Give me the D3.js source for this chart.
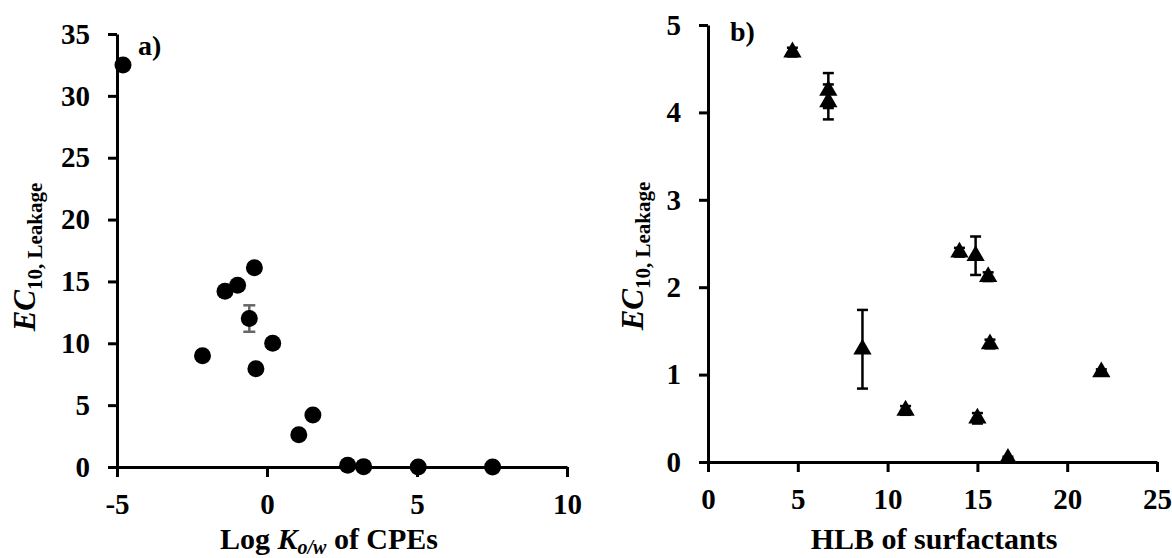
<!DOCTYPE html>
<html>
<head>
<meta charset="utf-8">
<script src="https://cdn.jsdelivr.net/npm/d3@7"></script>
<style>
  body { margin: 0; background: #fff; }
  svg text { font-family: "Liberation Serif", "Times New Roman", serif; font-weight: bold; fill: #000; }
</style>
</head>
<body>
<div id="chart"></div>
<script>
// panel a: EC10 vs log Kow of CPEs
var logKow = [-4.8, -2.15, -1.4, -0.98, -0.42, -0.59, 0.19, -0.37, 1.53, 1.06, 2.69, 3.22, 5.04, 7.52];
var ecA    = [32.5, 9.0, 14.2, 14.7, 16.1, 12.0, 10.0, 7.95, 4.2, 2.6, 0.15, 0.03, 0.0, 0.0];
var errA   = [0, 0, 0, 0, 0, 1.07, 0, 0, 0, 0, 0, 0, 0, 0];
var xTicksA = [-5, 0, 5, 10];
var yTicksA = [0, 5, 10, 15, 20, 25, 30, 35];

// panel b: EC10 vs HLB of surfactants
var hlb  = [4.7, 6.7, 6.7, 14.0, 14.9, 15.6, 8.6, 15.7, 21.9, 11.0, 15.0, 16.7];
var ecB  = [4.69, 4.25, 4.12, 2.40, 2.36, 2.12, 1.29, 1.35, 1.03, 0.59, 0.50, 0.04];
var errB = [0.05, 0.2, 0.2, 0.05, 0.22, 0.05, 0.45, 0.05, 0.03, 0.05, 0.06, 0.02];
var xTicksB = [0, 5, 10, 15, 20, 25];
var yTicksB = [0, 1, 2, 3, 4, 5];

var W = 1172, H = 558;

var svg = d3.select("#chart").append("svg")
  .attr("width", W)
  .attr("height", H);

function drawPanel(cfg) {
  var x = d3.scaleLinear().domain(cfg.xDomain).range(cfg.xRange);
  var y = d3.scaleLinear().domain(cfg.yDomain).range(cfg.yRange);
  var g = svg.append("g");
  var fmt = function(d) { return String(d); };  // plain hyphen, no decimals

  // axes
  var yAxis = d3.axisLeft(y).tickValues(cfg.yTicks).tickFormat(fmt)
    .tickSize(9).tickPadding(18).tickSizeOuter(0);
  var xAxis = d3.axisBottom(x).tickValues(cfg.xTicks).tickFormat(fmt)
    .tickSize(10).tickPadding(16).tickSizeOuter(0);

  var gx = g.append("g")
    .attr("transform", "translate(0," + y(0) + ")")
    .call(xAxis);
  var gy = g.append("g")
    .attr("transform", "translate(" + x(cfg.xDomain[0]) + ",0)")
    .call(yAxis);

  [gx, gy].forEach(function(a) {
    a.select(".domain").attr("stroke", "#000").attr("stroke-width", 3);
    a.selectAll(".tick line").attr("stroke", "#000").attr("stroke-width", 3);
    a.selectAll(".tick text")
      .attr("font-size", 29)
      .attr("font-family", "Liberation Serif, Times New Roman, serif")
      .attr("font-weight", "bold")
      .attr("fill", "#000");
  });

  // error bars
  var eb = g.append("g")
    .selectAll("g")
    .data(cfg.xs.map(function(v, i) { return {x: v, y: cfg.ys[i], e: cfg.errs[i]}; })
      .filter(function(d) { return d.e > 0; }))
    .enter().append("g")
    .attr("stroke", cfg.errColor)
    .attr("stroke-width", cfg.errWidth);

  eb.append("line")
    .attr("x1", function(d) { return x(d.x); })
    .attr("x2", function(d) { return x(d.x); })
    .attr("y1", function(d) { return y(d.y - d.e); })
    .attr("y2", function(d) { return y(d.y + d.e); });
  [-1, 1].forEach(function(s) {
    eb.append("line")
      .attr("x1", function(d) { return x(d.x) - cfg.cap; })
      .attr("x2", function(d) { return x(d.x) + cfg.cap; })
      .attr("y1", function(d) { return y(d.y + s * d.e); })
      .attr("y2", function(d) { return y(d.y + s * d.e); });
  });

  // markers
  g.append("g")
    .selectAll("path")
    .data(cfg.xs.map(function(v, i) { return {x: v, y: cfg.ys[i]}; }))
    .enter().append("path")
    .attr("d", d3.symbol().type(cfg.symbol).size(cfg.symbolSize))
    .attr("transform", function(d) { return "translate(" + x(d.x) + "," + y(d.y) + ")"; })
    .attr("fill", "#000");

  if (cfg.errOnTop) eb.raise();

  // panel label
  g.append("text")
    .attr("x", cfg.label[1])
    .attr("y", cfg.label[2])
    .attr("font-size", 28)
    .text(cfg.label[0]);

  // y title
  var yt = g.append("text")
    .attr("transform", "translate(" + cfg.yTitlePos[0] + "," + cfg.yTitlePos[1] + ") rotate(-90)")
    .attr("text-anchor", "middle")
    .attr("font-size", 31);
  yt.append("tspan").attr("font-style", "italic").text("EC");
  yt.append("tspan").attr("font-size", 21).attr("dy", 7).text("10, Leakage");

  // x title
  var xt = g.append("text")
    .attr("x", cfg.xTitlePos[0])
    .attr("y", cfg.xTitlePos[1])
    .attr("text-anchor", "middle")
    .attr("font-size", 30);
  cfg.xTitle.forEach(function(p) {
    var t = xt.append("tspan").text(p.t);
    if (p.i) t.attr("font-style", "italic");
    if (p.sub) t.attr("font-size", 20).attr("dy", 5);
    if (p.up) t.attr("dy", -5);
  });
}

drawPanel({
  xs: logKow, ys: ecA, errs: errA,
  xDomain: [-5, 10], xRange: [117, 567],
  yDomain: [0, 35], yRange: [467, 34],
  xTicks: xTicksA, yTicks: yTicksA,
  symbol: d3.symbolCircle, symbolSize: Math.PI * 8.5 * 8.5,
  errColor: "#666", errWidth: 2.5, cap: 6, errOnTop: true,
  label: ["a)", 138, 55],
  yTitlePos: [35, 257],
  xTitlePos: [329, 549],
  xTitle: [{t: "Log "}, {t: "K", i: true}, {t: "o/w", i: true, sub: true}, {t: " of CPEs", up: true}]
});

drawPanel({
  xs: hlb, ys: ecB, errs: errB,
  xDomain: [0, 25], xRange: [708, 1157],
  yDomain: [0, 5], yRange: [462, 25],
  xTicks: xTicksB, yTicks: yTicksB,
  symbol: d3.symbolTriangle, symbolSize: 145,
  errColor: "#000", errWidth: 2.5, cap: 5.5, errOnTop: false,
  label: ["b)", 730, 41],
  yTitlePos: [643, 256],
  xTitlePos: [934, 549],
  xTitle: [{t: "HLB of surfactants"}]
});
</script>
</body>
</html>
